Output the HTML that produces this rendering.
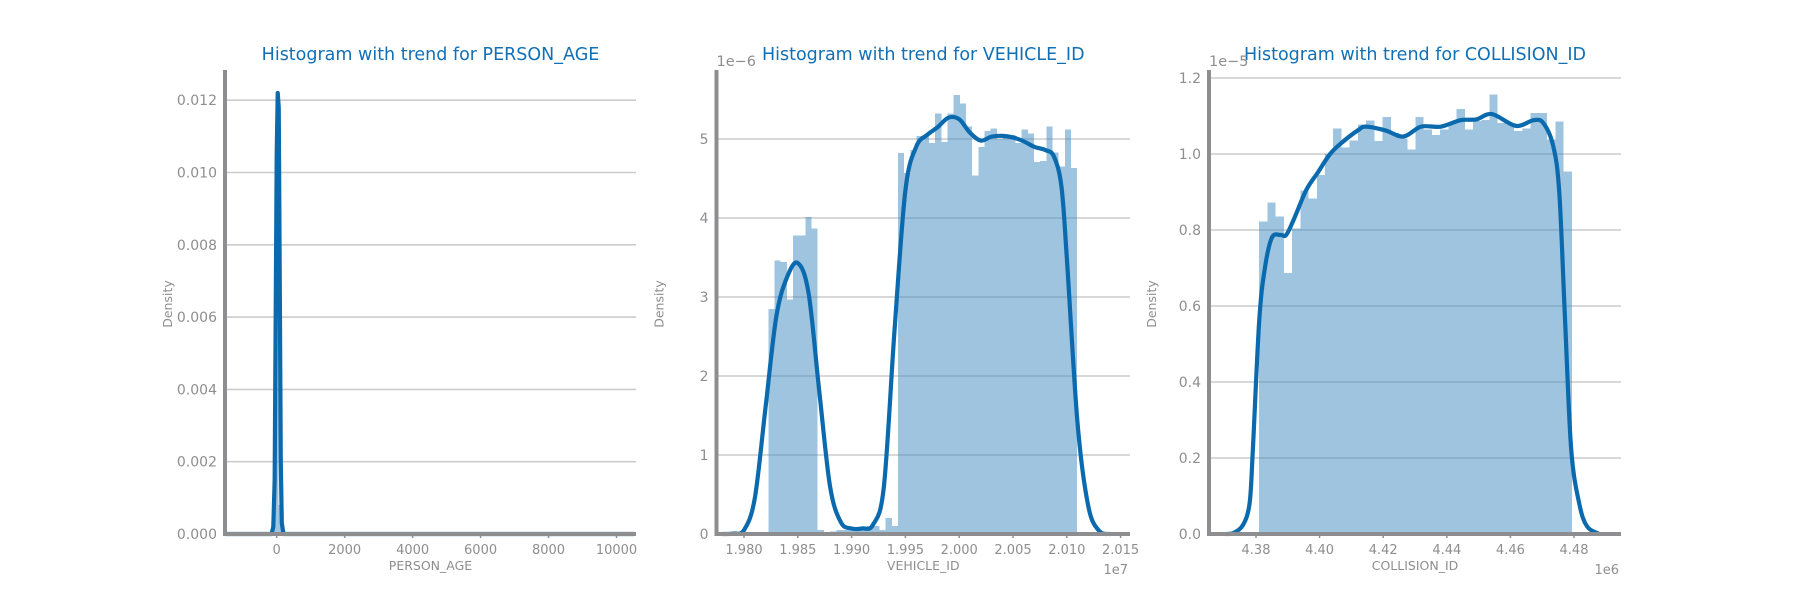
<!DOCTYPE html>
<html><head><meta charset="utf-8"><style>
html,body{margin:0;padding:0;background:#fff;}
svg{display:block;font-family:"DejaVu Sans","Liberation Sans",sans-serif;}
</style></head><body>
<svg id="fig" width="1800" height="600" viewBox="0 0 1800 600" xmlns="http://www.w3.org/2000/svg"></svg>
<script>
// ---- Panel 1: PERSON_AGE ----
const ageBinStarts = [-60, 0, 60];
const ageBinEnds = [0, 60, 120];
const ageBinHeights = [0.0045, 0.0118, 0.0008];
const ageKdeX = [-1500, -150, -100, -60, -30, 0, 30, 60, 90, 120, 150, 200, 10500];
const ageKdeY = [0, 0, 0.0002, 0.0015, 0.006, 0.0105, 0.0122, 0.0118, 0.007, 0.002, 0.0003, 0, 0];
const ageXTicks = [0, 2000, 4000, 6000, 8000, 10000];
const ageXTickLabels = ["0", "2000", "4000", "6000", "8000", "10000"];
const ageYTicks = [0, 0.002, 0.004, 0.006, 0.008, 0.010, 0.012];
const ageYTickLabels = ["0.000", "0.002", "0.004", "0.006", "0.008", "0.010", "0.012"];

// ---- Panel 2: VEHICLE_ID (x in 1e7, y in 1e-6) ----
const vehBinStart = 1.98226;
const vehBinEnd = 2.01097;
const vehBinHeights = [2.85,3.46,3.44,2.97,3.78,3.78,4.01,3.87,
  0.05,0,0.03,0.05,0.05,0.05,0.05,0.05,0.1,0.1,0.05,0.2,0.1,
  4.82,4.57,4.86,5.04,5.05,4.95,5.32,4.96,5.32,5.56,5.45,5.16,4.54,4.90,5.10,5.13,5.00,5.02,5.05,4.95,5.12,5.07,4.71,4.72,5.16,4.83,4.65,5.12,4.63];
const vehKdeX = [1.978,1.979,1.980,1.981,1.982,1.983,1.984,1.985,1.986,1.987,1.988,1.989,1.990,1.991,1.992,1.993,1.994,1.995,1.996,1.997,1.998,1.999,2.000,2.001,2.002,2.003,2.004,2.005,2.006,2.007,2.008,2.0088,2.0095,2.010,2.011,2.012,2.013,2.014];
const vehKdeY = [0,0.005,0.05,0.45,1.6,2.75,3.25,3.43,3.05,1.8,0.6,0.15,0.07,0.07,0.12,0.6,2.6,4.35,4.9,5.05,5.15,5.27,5.25,5.08,4.98,5.03,5.04,5.02,4.97,4.9,4.86,4.78,4.4,3.5,1.4,0.35,0.04,0];
const vehXTicks = [1.980,1.985,1.990,1.995,2.000,2.005,2.010,2.015];
const vehXTickLabels = ["1.980","1.985","1.990","1.995","2.000","2.005","2.010","2.015"];
const vehYTicks = [0,1,2,3,4,5];
const vehYTickLabels = ["0","1","2","3","4","5"];

// ---- Panel 3: COLLISION_ID (x in 1e6, y in 1e-5) ----
const colBinStart = 4.381;
const colBinEnd = 4.4793;
const colBinHeights = [0.823,0.873,0.836,0.687,0.804,0.904,0.883,0.945,1.0,1.067,1.017,1.036,1.077,1.088,1.034,1.097,1.055,1.041,1.012,1.098,1.065,1.050,1.065,1.084,1.118,1.065,1.087,1.09,1.157,1.081,1.077,1.06,1.067,1.108,1.108,1.038,1.086,0.954];
const colKdeX = [4.3705,4.373,4.376,4.378,4.379,4.381,4.3828,4.385,4.3877,4.3895,4.392,4.3958,4.3995,4.4033,4.407,4.412,4.4146,4.4207,4.4264,4.4319,4.4381,4.4443,4.4493,4.4542,4.4617,4.4673,4.4704,4.4735,4.4754,4.4772,4.4791,4.4816,4.4841,4.488];
const colKdeY = [0,0.003,0.025,0.082,0.22,0.56,0.70,0.78,0.787,0.787,0.83,0.905,0.952,1.0,1.03,1.062,1.072,1.062,1.046,1.072,1.072,1.089,1.091,1.105,1.074,1.089,1.081,1.02,0.895,0.56,0.225,0.082,0.02,0];
const colXTicks = [4.38,4.40,4.42,4.44,4.46,4.48];
const colXTickLabels = ["4.38","4.40","4.42","4.44","4.46","4.48"];
const colYTicks = [0,0.2,0.4,0.6,0.8,1.0,1.2];
const colYTickLabels = ["0.0","0.2","0.4","0.6","0.8","1.0","1.2"];

const NS = "http://www.w3.org/2000/svg";
const svg = document.getElementById("fig");
function mk(tag, attrs, parent) {
  const e = document.createElementNS(NS, tag);
  for (const k in attrs) e.setAttribute(k, attrs[k]);
  (parent || svg).appendChild(e);
  return e;
}
function smoothPath(pts) {
  let d = "M" + pts[0][0].toFixed(2) + "," + pts[0][1].toFixed(2);
  for (let i = 0; i < pts.length - 1; i++) {
    const p0 = pts[Math.max(0, i - 1)], p1 = pts[i], p2 = pts[i + 1], p3 = pts[Math.min(pts.length - 1, i + 2)];
    const c1x = p1[0] + (p2[0] - p0[0]) / 6, c1y = p1[1] + (p2[1] - p0[1]) / 6;
    const c2x = p2[0] - (p3[0] - p1[0]) / 6, c2y = p2[1] - (p3[1] - p1[1]) / 6;
    d += " C" + c1x.toFixed(2) + "," + c1y.toFixed(2) + " " + c2x.toFixed(2) + "," + c2y.toFixed(2) + " " + p2[0].toFixed(2) + "," + p2[1].toFixed(2);
  }
  return d;
}
function linePath(pts) {
  return "M" + pts.map(p => p[0].toFixed(2) + "," + p[1].toFixed(2)).join(" L");
}

function panel(cfg) {
  const g = mk("g", {});
  
  
  const x = v => cfg.px0 + (v - cfg.x0) * cfg.xs;
  const y = v => cfg.py0 - (v - cfg.y0) * cfg.ys;
  const top = 70, bottom = 534;
  cfg.yTicks.forEach((t, i) => {
    const gl = mk("line", {x1: cfg.axL, x2: cfg.axR, y1: y(t), y2: y(t), stroke: "#cccccc", "stroke-width": 1.6}, g);
    
    
    const tl = mk("text", {x: cfg.axL - 8, y: y(t) + 5, "text-anchor": "end", "font-size": 14, fill: "#8e8e8e"}, g);
    tl.textContent = cfg.yTickLabels[i];
    
    
  });
  cfg.bars.forEach(b => {
    if (b[2] <= 0) return;
    const r = mk("rect", {x: x(b[0]), y: y(b[2]), width: Math.max(0.5, x(b[1]) - x(b[0])), height: y(0) - y(b[2]), fill: "#3d89c1", "fill-opacity": 0.5, "shape-rendering": "crispEdges"}, g);
    
    
  });
  const pts = cfg.kx.map((v, i) => [x(v), y(cfg.ky[i])]);
  const p = mk("path", {d: cfg.linear ? linePath(pts) : smoothPath(pts), fill: "none", stroke: "#0b6aad", "stroke-width": 4.2, "stroke-linejoin": "round", "stroke-linecap": "round"}, g);
  
  
  const ya = mk("line", {x1: cfg.axL, x2: cfg.axL, y1: top, y2: bottom + 2, stroke: "#8e8e90", "stroke-width": 4}, g);
  
  
  const xa = mk("line", {x1: cfg.axL - 2, x2: cfg.axR, y1: bottom, y2: bottom, stroke: "#8e8e90", "stroke-width": 4}, g);
  
  
  cfg.xTicks.forEach((t, i) => {
    const tk = mk("line", {x1: x(t), x2: x(t), y1: bottom, y2: bottom + 4, stroke: "#8e8e90", "stroke-width": 1.5}, g);
    
    
    const tl = mk("text", {x: x(t), y: 554, "text-anchor": "middle", "font-size": 13, fill: "#8e8e8e"}, g);
    tl.textContent = cfg.xTickLabels[i];
    
    
  });
  const xl = mk("text", {x: (cfg.axL + cfg.axR) / 2, y: 570, "text-anchor": "middle", "font-size": 12.5, fill: "#8e8e8e"}, g);
  xl.textContent = cfg.xlabel;
  
  
  const yl = mk("text", {x: 0, y: 0, transform: "translate(" + (cfg.axL - 53) + ",304) rotate(-90)", "text-anchor": "middle", "font-size": 12.5, fill: "#8e8e8e"}, g);
  yl.textContent = "Density";
  
  
  const t = mk("text", {x: (cfg.axL + cfg.axR) / 2, y: 60, "text-anchor": "middle", "font-size": 17.5, fill: "#1170b5"}, g);
  t.textContent = "Histogram with trend for " + cfg.xlabel;
  
  
  if (cfg.yOff) {
    const o = mk("text", {x: cfg.axL, y: 66, "font-size": 14.5, fill: "#8e8e8e"}, g);
    o.textContent = cfg.yOff;
    
    
  }
  if (cfg.xOff) {
    const o = mk("text", {x: cfg.axR - 2, y: 574, "text-anchor": "end", "font-size": 13, fill: "#8e8e8e"}, g);
    o.textContent = cfg.xOff;
    
    
  }
}

panel({name: "person-age", axL: 225, axR: 636, px0: 276.7, x0: 0, xs: 67.96 / 2000, py0: 534, y0: 0, ys: 72.3 / 0.002,
  yTicks: ageYTicks, yTickLabels: ageYTickLabels, xTicks: ageXTicks, xTickLabels: ageXTickLabels,
  bars: ageBinStarts.map((s, i) => [s, ageBinEnds[i], ageBinHeights[i]]),
  kx: ageKdeX, ky: ageKdeY, xlabel: "PERSON_AGE", linear: true});

const vw = (vehBinEnd - vehBinStart) / vehBinHeights.length;
panel({name: "vehicle-id", axL: 716.5, axR: 1130, px0: 744, x0: 1.980, xs: 53.8 / 0.005, py0: 534, y0: 0, ys: 79,
  yTicks: vehYTicks, yTickLabels: vehYTickLabels, xTicks: vehXTicks, xTickLabels: vehXTickLabels,
  bars: vehBinHeights.map((h, i) => [vehBinStart + i * vw, vehBinStart + (i + 1) * vw, h]),
  kx: vehKdeX, ky: vehKdeY, xlabel: "VEHICLE_ID", yOff: "1e\u22126", xOff: "1e7"});

const cw = (colBinEnd - colBinStart) / colBinHeights.length;
panel({name: "collision-id", axL: 1209, axR: 1621, px0: 1256, x0: 4.38, xs: 63.6 / 0.02, py0: 534, y0: 0, ys: 76 / 0.2,
  yTicks: colYTicks, yTickLabels: colYTickLabels, xTicks: colXTicks, xTickLabels: colXTickLabels,
  bars: colBinHeights.map((h, i) => [colBinStart + i * cw, colBinStart + (i + 1) * cw, h]),
  kx: colKdeX, ky: colKdeY, xlabel: "COLLISION_ID", yOff: "1e\u22125", xOff: "1e6"});
</script>
</body></html>
